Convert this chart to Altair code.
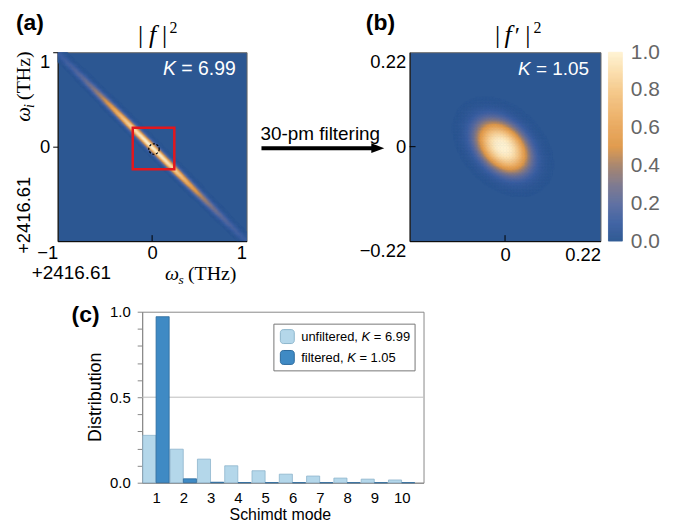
import altair as alt
import numpy as np
import pandas as pd

SANS = "Liberation Sans"
SERIF = "Liberation Serif"

# ---------------- data ----------------
schmidt_modes = [1, 2, 3, 4, 5, 6, 7, 8, 9, 10]
unfiltered_dist = [0.277, 0.196, 0.138, 0.099, 0.070, 0.050, 0.039, 0.027, 0.021, 0.016]
filtered_dist = [0.971, 0.023, 0.003, 0.001, 0.0005, 0.0003, 0.0002, 0.0001, 0.0001, 0.0001]
K_unfiltered = "6.99"
K_filtered = "1.05"

cbar_stops = [0.0, 0.1, 0.2, 0.3, 0.4, 0.5, 0.6, 0.7, 0.8, 0.9, 1.0]
cbar_colors = ["#2c5792", "#3c60a2", "#5a6b9e", "#7b768b", "#a5836c", "#df9849",
               "#e9a75b", "#f0b974", "#f6cb8f", "#fbdfae", "#fff3d3"]
cbar_ticks = [0.0, 0.2, 0.4, 0.6, 0.8, 1.0]

ticks_a = [-1, 0, 1]
ticks_b = [-0.22, 0, 0.22]
dist_ticks = [0.0, 0.1, 0.2, 0.3, 0.4, 0.5, 0.6, 0.7, 0.8, 0.9, 1.0]

# parameters of the joint spectral intensities
jsa_center = [0.0, 0.0]
jsa_pump_sigma = [0.038]
jsa_pm_core = [0.75, 0.88]      # width, weight of the phase-matching core
jsa_pm_tail = [2.0, 0.12]       # width, weight of the faint tail toward the corners
filt_center = [-0.005, 0.0]
filt_sigma = [0.070, 0.048]
filt_power = [1.3]
box_center = [0.015, -0.02]
box_half = [0.22]
circle_center = [0.02, -0.025]


def cell_grid(lo, hi, n):
    d = (hi - lo) / n
    c = lo + d * (np.arange(n) + 0.5)
    X, Y = np.meshgrid(c, c)
    return X, Y, d


# panel (a) map
Xa, Ya, da = cell_grid(-1.0, 1.0, 170)
ua = ((Xa - jsa_center[0]) + (Ya - jsa_center[1])) / np.sqrt(2)
va = ((Xa - jsa_center[0]) - (Ya - jsa_center[1])) / np.sqrt(2)
ga = jsa_pm_core[1] * np.exp(-(va / jsa_pm_core[0]) ** 2) + jsa_pm_tail[1] * np.exp(-(va / jsa_pm_tail[0]) ** 2)
Za = np.exp(-(ua / jsa_pump_sigma[0]) ** 2) * ga
ma = Za > 0.004
df_a = pd.DataFrame({"xc": Xa[ma].round(4), "yc": Ya[ma].round(4), "z": Za[ma].round(4)})

# panel (b) map
Xb, Yb, db = cell_grid(-0.22, 0.22, 130)
pa = ((Xb - filt_center[0]) - (Yb - filt_center[1])) / np.sqrt(2)
pb = ((Xb - filt_center[0]) + (Yb - filt_center[1])) / np.sqrt(2)
Zb = np.exp(-(((pa / filt_sigma[0]) ** 2 + (pb / filt_sigma[1]) ** 2) ** filt_power[0]))
mb = Zb > 0.004
df_b = pd.DataFrame({"xc": Xb[mb].round(5), "yc": Yb[mb].round(5), "z": Zb[mb].round(4)})

ncb = 190
df_cb = pd.DataFrame({"v1": np.arange(ncb) / ncb,
                      "v2": (np.arange(ncb) + 1) / ncb,
                      "z": (np.arange(ncb) + 0.5) / ncb})

BASE = cbar_colors[0]
color_scale = alt.Scale(domain=cbar_stops, range=cbar_colors, interpolate="rgb", clamp=True)


def one(s):
    return pd.DataFrame({"s": [s]})


def txt(s, x, y, size, font=SANS, style="normal", weight="normal", align="left",
        color="black", angle=0, baseline="alphabetic"):
    return alt.Chart(one(s)).mark_text(
        align=align, baseline=baseline, font=font, fontSize=size, fontStyle=style,
        fontWeight=weight, color=color, angle=angle
    ).encode(x=alt.value(x), y=alt.value(y), text="s:N")


def anchor(x1, x2, y1, y2):
    return alt.Chart(one("")).mark_rect(opacity=0).encode(
        x=alt.value(x1), x2=alt.value(x2), y=alt.value(y1), y2=alt.value(y2))


def vrule(x1, x2, y1, y2, color="black", width=1.0):
    return alt.Chart(one("")).mark_rule(color=color, strokeWidth=width).encode(
        x=alt.value(x1), x2=alt.value(x2), y=alt.value(y1), y2=alt.value(y2))


# ---------------- panel (a) ----------------
WA, HA = 190, 190
xa_scale = alt.Scale(domain=[-1, 1], nice=False, zero=False)
ya_scale = alt.Scale(domain=[-1, 1], nice=False, zero=False)
axis_ax = alt.Axis(values=ticks_a, title=None, grid=False, ticks=False, labelFlush=False,
                   labelExpr="datum.value < 0 ? '\u2212' + format(-datum.value, 'd') : format(datum.value, 'd')",
                   labelAlign={"condition": {"test": "datum.value != 0", "value": "right"}, "value": "center"},
                   labelFontSize=18.5, labelPadding=2, labelColor="black", domainColor="black",
                   labelFont=SANS, labelOverlap=False)
axis_ay = alt.Axis(values=[0, 1], title=None, grid=False, tickSize=5, tickColor="black",
                   labelExpr="format(datum.value, 'd')",
                   labelBaseline={"condition": {"test": "datum.value == 1", "value": "top"}, "value": "middle"},
                   labelFontSize=18.5, labelPadding=3, labelColor="black", domainColor="black",
                   labelFont=SANS, labelOverlap=False, labelFlush=False)

ha = round(da * 0.55, 5)
heat_a = alt.Chart(df_a).transform_calculate(
    x1=f"datum.xc - {ha}", x2=f"datum.xc + {ha}", y1=f"datum.yc - {ha}", y2=f"datum.yc + {ha}"
).mark_rect(clip=True, strokeWidth=0.5).encode(
    x=alt.X("x1:Q", scale=xa_scale, axis=axis_ax),
    x2="x2:Q",
    y=alt.Y("y1:Q", scale=ya_scale, axis=axis_ay),
    y2="y2:Q",
    color=alt.Color("z:Q", scale=color_scale, legend=None),
    stroke=alt.Color("z:Q", scale=color_scale, legend=None),
)

box_df = pd.DataFrame({"bx1": [box_center[0] - box_half[0]], "bx2": [box_center[0] + box_half[0]],
                       "by1": [box_center[1] - box_half[0]], "by2": [box_center[1] + box_half[0]]})
box = alt.Chart(box_df).mark_rect(fillOpacity=0, stroke="#e3171c", strokeWidth=2.5).encode(
    x=alt.X("bx1:Q", scale=xa_scale, axis=axis_ax), x2="bx2:Q",
    y=alt.Y("by1:Q", scale=ya_scale, axis=axis_ay), y2="by2:Q")

circ = alt.Chart(pd.DataFrame({"cx": [circle_center[0]], "cy": [circle_center[1]]})).mark_point(
    shape="circle", size=110, filled=False, stroke="black", strokeWidth=1.2, strokeDash=[2.2, 1.6], opacity=1
).encode(x=alt.X("cx:Q", scale=xa_scale, axis=axis_ax), y=alt.Y("cy:Q", scale=ya_scale, axis=axis_ay))

tick_a = alt.Chart(pd.DataFrame({"t": [0.0]})).mark_rule(color="black").encode(
    x=alt.X("t:Q", scale=xa_scale, axis=axis_ax), y=alt.value(HA), y2=alt.value(HA - 6))

A = alt.layer(
    heat_a, box, circ, tick_a,
    txt("(a)", -42, -22, 23, weight="bold"),
    txt("|", 83.5, -9, 26, font=SERIF, align="center"),
    txt("f", 95.5, -9, 26, font=SERIF, style="italic", align="center"),
    txt("|", 107.5, -9, 26, font=SERIF, align="center"),
    txt("2", 116.5, -19, 16, font=SERIF, align="center"),
    txt("K", 106, 23, 19.5, style="italic", color="white"),
    txt("= " + K_unfiltered, 124.4, 23, 19.5, color="white"),
    txt("+2416.61", -26, 228, 19),
    txt("\u03c9", 108, 229, 20, font=SERIF, style="italic"),
    txt("s", 121.5, 233, 13.5, font=SERIF, style="italic"),
    txt("(THz)", 131, 229, 20, font=SERIF),
    txt("+2416.61", -28, 164, 18.5, angle=270, align="center"),
    txt("\u03c9", -28, 70, 21, font=SERIF, style="italic", angle=270),
    txt("i", -24, 56, 14, font=SERIF, style="italic", angle=270),
    txt("(THz)", -28, 48, 20, font=SERIF, angle=270),
    anchor(-57, 198, -50, 235),
).properties(width=WA, height=HA, view=alt.ViewBackground(fill=BASE, stroke="#666", strokeWidth=1))

# ---------------- panel (b) ----------------
WB, HB = 192, 190
xb_scale = alt.Scale(domain=[-0.22, 0.22], nice=False, zero=False)
yb_scale = alt.Scale(domain=[-0.22, 0.22], nice=False, zero=False)
axis_bx = alt.Axis(values=[0, 0.22], title=None, grid=False, ticks=False, labelFlush=False,
                   labelExpr="datum.value == 0 ? '0' : '0.22'",
                   labelAlign={"condition": {"test": "datum.value != 0", "value": "right"}, "value": "center"},
                   labelFontSize=18.5, labelPadding=4, labelColor="black", domainColor="black",
                   labelFont=SANS, labelOverlap=False)
axis_by = alt.Axis(values=ticks_b, title=None, grid=False, ticks=False, orient="left",
                   labelExpr="datum.value == 0 ? '0' : (datum.value > 0 ? '0.22' : '\u22120.22')",
                   labelBaseline={"condition": {"test": "datum.value == 0", "value": "middle"}, "value": "top"},
                   labelFontSize=18.5, labelPadding=4, labelColor="black", domainColor="black",
                   labelFont=SANS, labelOverlap=False, labelFlush=False)

hb = round(db * 0.55, 6)
heat_b = alt.Chart(df_b).transform_calculate(
    x1=f"datum.xc - {hb}", x2=f"datum.xc + {hb}", y1=f"datum.yc - {hb}", y2=f"datum.yc + {hb}"
).mark_rect(clip=True, strokeWidth=0.5).encode(
    x=alt.X("x1:Q", scale=xb_scale, axis=axis_bx),
    x2="x2:Q",
    y=alt.Y("y1:Q", scale=yb_scale, axis=axis_by),
    y2="y2:Q",
    color=alt.Color("z:Q", scale=color_scale, legend=None),
    stroke=alt.Color("z:Q", scale=color_scale, legend=None),
)

tick_bx = alt.Chart(pd.DataFrame({"t": [0.0]})).mark_rule(color="black").encode(
    x=alt.X("t:Q", scale=xb_scale, axis=axis_bx), y=alt.value(HB), y2=alt.value(HB - 6))
tick_by = alt.Chart(pd.DataFrame({"t": [0.0]})).mark_rule(color="black").encode(
    y=alt.Y("t:Q", scale=yb_scale, axis=None), x=alt.value(0), x2=alt.value(6))

cbar = alt.Chart(df_cb).mark_rect(strokeWidth=0.6).encode(
    x=alt.value(200), x2=alt.value(214),
    y=alt.Y("v1:Q", scale=alt.Scale(domain=[0, 1], nice=False, zero=False),
            axis=alt.Axis(orient="right", offset=22, values=cbar_ticks, format=".1f", title=None,
                          labelFontSize=21, labelColor="#666", ticks=False, domain=False, grid=False,
                          labelPadding=8, labelFont=SANS, labelOverlap=False, labelFlush=False)),
    y2="v2:Q",
    color=alt.Color("z:Q", scale=color_scale, legend=None),
    stroke=alt.Color("z:Q", scale=color_scale, legend=None),
)

arrow_head = alt.Chart(one("")).mark_point(
    shape="M-1,-0.75L1,0L-1,0.75Z", size=169, filled=True, color="black", opacity=1, strokeWidth=0
).encode(x=alt.value(-32), y=alt.value(96.5))

B = alt.layer(
    heat_b, tick_bx, tick_by, cbar,
    txt("(b)", -44, -22, 23, weight="bold"),
    txt("|", 88.5, -9, 26, font=SERIF, align="center"),
    txt("f", 99, -9, 26, font=SERIF, style="italic", align="center"),
    txt("\u2032", 108.5, -9, 24, font=SERIF, align="center"),
    txt("|", 119, -9, 26, font=SERIF, align="center"),
    txt("2", 128.5, -19, 16, font=SERIF, align="center"),
    txt("K", 109, 23, 19, style="italic", color="white"),
    txt("= " + K_filtered, 127.2, 23, 19, color="white"),
    txt("30-pm filtering", -150, 88, 19),
    vrule(-149, -36, 96.5, 96.5, width=4),
    arrow_head,
    anchor(-154, 275, -50, 235),
).resolve_scale(y="independent").properties(
    width=WB, height=HB, view=alt.ViewBackground(fill=BASE, stroke="#666", strokeWidth=1))

# ---------------- panel (c) ----------------
WC, HC = 283, 172
LIGHT, LIGHT_EDGE = "#b4d7ea", "#8db5cc"
DARK, DARK_EDGE = "#3f8ac4", "#2b6a9c"
xc_scale = alt.Scale(domain=[0.49, 10.8], nice=False, zero=False)
yc_scale = alt.Scale(domain=[0, 1], nice=False, zero=False)
axis_cx = alt.Axis(values=schmidt_modes, title=None, grid=False, ticks=False, labelFontSize=15,
                   labelPadding=8, labelColor="black", domainColor="#888", labelFont=SANS,
                   labelFlush=False, labelOverlap=False, format="d")
axis_cy = alt.Axis(values=dist_ticks, title=None, grid=False, tickSize=5, tickColor="#888",
                   labelExpr="(datum.value < 0.001 || abs(datum.value - 0.5) < 0.001 || datum.value > 0.999) ? format(datum.value, '.1f') : ''",
                   labelFontSize=15, labelPadding=7, labelColor="black", domainColor="#888",
                   labelFont=SANS, labelFlush=False, labelOverlap=False)

df_c = pd.DataFrame({"mode": schmidt_modes, "unf": unfiltered_dist, "fil": filtered_dist})

grid_rule = alt.Chart(pd.DataFrame({"g": [0.5]})).mark_rule(color="#bdbdbd", strokeWidth=1).encode(
    y=alt.Y("g:Q", scale=yc_scale, axis=axis_cy))

bars_u = alt.Chart(df_c).transform_calculate(xs="datum.mode - 0.485", xe="datum.mode - 0.005").mark_rect(
    fill=LIGHT, stroke=LIGHT_EDGE, strokeWidth=0.8).encode(
    x=alt.X("xs:Q", scale=xc_scale, axis=axis_cx), x2="xe:Q",
    y=alt.Y("unf:Q", scale=yc_scale, axis=axis_cy), y2=alt.datum(0))

bars_f = alt.Chart(df_c).transform_calculate(xs="datum.mode - 0.0", xe="datum.mode + 0.48").mark_rect(
    fill=DARK, stroke=DARK_EDGE, strokeWidth=0.8).encode(
    x=alt.X("xs:Q", scale=xc_scale, axis=axis_cx), x2="xe:Q",
    y=alt.Y("fil:Q", scale=yc_scale, axis=axis_cy), y2=alt.datum(0))

legend_box = alt.Chart(one("")).mark_rect(fill="white", stroke="#777", strokeWidth=1).encode(
    x=alt.value(132.5), x2=alt.value(274.5), y=alt.value(12.5), y2=alt.value(59.5))
sw1 = alt.Chart(one("")).mark_rect(fill=LIGHT, stroke=LIGHT_EDGE, strokeWidth=1, cornerRadius=3).encode(
    x=alt.value(139), x2=alt.value(153), y=alt.value(18), y2=alt.value(32))
sw2 = alt.Chart(one("")).mark_rect(fill=DARK, stroke=DARK_EDGE, strokeWidth=1, cornerRadius=3).encode(
    x=alt.value(139), x2=alt.value(153), y=alt.value(39), y2=alt.value(53))

C = alt.layer(
    grid_rule, bars_u, bars_f, legend_box, sw1, sw2,
    txt("unfiltered,", 160, 29.5, 13),
    txt("K", 220.7, 29.5, 13, style="italic"),
    txt("= " + K_unfiltered, 233.0, 29.5, 13),
    txt("filtered,", 160, 50.5, 13),
    txt("K", 206.2, 50.5, 13, style="italic"),
    txt("= " + K_filtered, 218.5, 50.5, 13),
    txt("(c)", -71, 10, 23, weight="bold"),
    txt("Distribution", -41, 86, 18, angle=270, align="center"),
    txt("Schimdt mode", 139, 210, 16, align="center"),
    anchor(-83, 400, -24, 214),
).properties(width=WC, height=HC, view=alt.ViewBackground(fill="white", stroke="#888", strokeWidth=1))

# invisible spacer that pushes panel (c) to the right
S = alt.Chart(one("")).mark_rect(opacity=0).encode(
    x=alt.value(-57), x2=alt.value(-7), y=alt.value(0), y2=alt.value(1)
).properties(width=1, height=1, view=alt.ViewBackground(strokeOpacity=0, fillOpacity=0))

row1 = alt.hconcat(A, B, spacing=0)
row2 = alt.hconcat(S, C, spacing=0)
chart = alt.vconcat(row1, row2, spacing=0).properties(padding=0).configure(font=SANS)

chart.save("out.html", embed_options={"renderer": "svg", "actions": False})
